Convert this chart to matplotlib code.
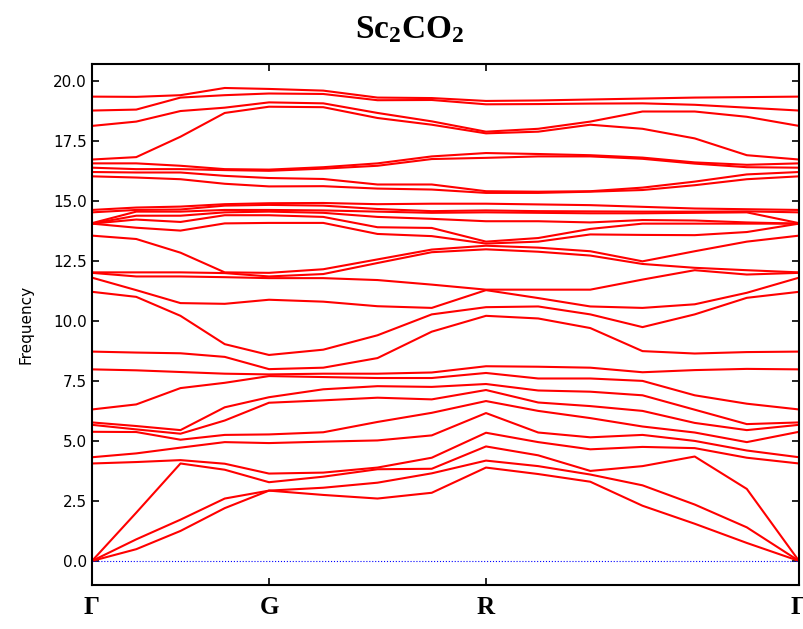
import numpy as np
import matplotlib.pyplot as plt

plt.rcParams['mathtext.default'] = 'regular'

# distance along the path Γ-G-R-Γ
kdist = [0, 44.25, 88.5, 132.75, 177, 231.25, 285.5, 339.75, 394,
         446.2, 498.3, 550.5, 602.7, 654.8, 707]
klabels = ['Γ', 'G', 'R', 'Γ']
kticks = [0, 177, 394, 707]

# phonon frequencies at each path point (30 branches, sorted)
f_gamma = [0, 0, 0, 4.06, 4.32, 5.38, 5.67, 5.77, 6.31, 7.98, 8.72, 11.21, 11.8, 12.0, 12.02,
           13.55, 14.05, 14.05, 14.05, 14.07, 14.52, 14.62, 16.02, 16.2, 16.38, 16.56, 16.72,
           18.12, 18.76, 19.34]
f_b = [0.49, 0.9, 2.01, 4.12, 4.48, 5.37, 5.48, 5.62, 6.52, 7.94, 8.68, 11.0, 11.28, 11.85, 12.02,
       13.41, 13.88, 14.22, 14.38, 14.55, 14.62, 14.72, 15.97, 16.18, 16.32, 16.56, 16.82,
       18.3, 18.8, 19.33]
f_c = [1.25, 1.72, 4.06, 4.2, 4.72, 5.05, 5.3, 5.45, 7.2, 7.87, 8.65, 10.21, 10.74, 11.85, 12.02,
       12.84, 13.76, 14.12, 14.38, 14.55, 14.64, 14.76, 15.9, 16.18, 16.32, 16.46, 17.67,
       18.74, 19.3, 19.4]
f_d = [2.2, 2.6, 3.8, 4.05, 4.95, 5.25, 5.85, 6.4, 7.42, 7.8, 8.5, 9.03, 10.71, 11.82, 11.99,
       12.02, 14.06, 14.4, 14.52, 14.62, 14.8, 14.86, 15.71, 16.04, 16.28, 16.32, 18.66,
       18.88, 19.4, 19.7]
f_g = [2.93, 2.93, 3.28, 3.64, 4.91, 5.27, 6.59, 6.82, 7.7, 7.77, 7.99, 8.58, 10.88, 11.78, 11.85,
       12.0, 14.08, 14.4, 14.55, 14.62, 14.83, 14.9, 15.6, 15.95, 16.25, 16.3, 18.92,
       19.1, 19.47, 19.66]
f_f = [2.75, 3.05, 3.51, 3.68, 4.97, 5.36, 6.69, 7.15, 7.66, 7.8, 8.05, 8.8, 10.8, 11.78, 11.95,
       12.15, 14.08, 14.33, 14.5, 14.6, 14.8, 14.91, 15.61, 15.91, 16.34, 16.4, 18.9,
       19.06, 19.45, 19.59]
f_h = [2.6, 3.26, 3.82, 3.89, 5.02, 5.79, 6.8, 7.28, 7.62, 7.8, 8.45, 9.4, 10.61, 11.7, 12.41,
       12.56, 13.62, 13.9, 14.33, 14.55, 14.66, 14.86, 15.51, 15.68, 16.46, 16.56, 18.45,
       18.66, 19.19, 19.3]
f_i = [2.84, 3.65, 3.84, 4.3, 5.23, 6.17, 6.73, 7.25, 7.62, 7.85, 9.55, 10.27, 10.54, 11.51, 12.86,
       12.97, 13.53, 13.87, 14.25, 14.5, 14.57, 14.88, 15.47, 15.68, 16.74, 16.85, 18.17,
       18.31, 19.2, 19.28]
f_r = [3.89, 4.18, 4.77, 5.34, 6.16, 6.66, 7.12, 7.37, 7.83, 8.11, 10.21, 10.57, 11.28, 11.3, 12.98,
       13.13, 13.22, 13.3, 14.15, 14.52, 14.6, 14.88, 15.33, 15.4, 16.79, 16.99, 17.81,
       17.88, 19.02, 19.16]
f_j = [3.62, 3.95, 4.4, 4.95, 5.35, 6.25, 6.6, 7.1, 7.6, 8.09, 10.1, 10.6, 10.95, 11.3, 12.88,
       13.05, 13.3, 13.45, 14.15, 14.5, 14.57, 14.85, 15.33, 15.38, 16.85, 16.95, 17.88,
       18.0, 19.03, 19.18]
f_k = [3.3, 3.6, 3.75, 4.65, 5.15, 5.95, 6.45, 7.05, 7.6, 8.05, 9.7, 10.27, 10.6, 11.3, 12.72,
       12.9, 13.6, 13.83, 14.1, 14.48, 14.56, 14.82, 15.38, 15.4, 16.85, 16.9, 18.17,
       18.3, 19.05, 19.22]
f_l = [2.3, 3.15, 3.95, 4.75, 5.25, 5.6, 6.25, 6.9, 7.5, 7.86, 8.74, 9.74, 10.54, 11.72, 12.37,
       12.48, 13.58, 14.05, 14.2, 14.48, 14.55, 14.75, 15.45, 15.55, 16.75, 16.8, 18.0,
       18.72, 19.06, 19.26]
f_m = [1.55, 2.35, 4.35, 4.7, 5.0, 5.35, 5.75, 6.3, 6.9, 7.95, 8.64, 10.27, 10.69, 12.11, 12.21,
       12.9, 13.57, 14.05, 14.18, 14.5, 14.55, 14.68, 15.65, 15.8, 16.55, 16.6, 17.6,
       18.72, 19.0, 19.3]
f_n = [0.75, 1.4, 3.0, 4.3, 4.6, 4.95, 5.45, 5.7, 6.55, 8.0, 8.7, 10.96, 11.17, 11.93, 12.11,
       13.3, 13.7, 14.05, 14.1, 14.52, 14.56, 14.65, 15.9, 16.1, 16.4, 16.5, 16.9,
       18.5, 18.88, 19.32]

freqs = np.array([f_gamma, f_b, f_c, f_d, f_g, f_f, f_h, f_i, f_r,
                  f_j, f_k, f_l, f_m, f_n, f_gamma])

fig = plt.figure(figsize=(8.04, 6.29), dpi=100)
ax = fig.add_axes([0.1144, 0.070, 0.8794, 0.8283])

for band in range(freqs.shape[1]):
    ax.plot(kdist, freqs[:, band], color='red', lw=1.5)

ax.axhline(0, color='blue', lw=0.8, ls=':')

ax.set_xlim(kdist[0], kdist[-1])
ax.set_ylim(-1.0, 20.7)
ax.set_xticks(kticks)
ax.set_xticklabels(klabels, fontfamily='Liberation Serif', fontweight='bold', fontsize=18)
ax.set_yticks(np.arange(0, 20.1, 2.5))
ax.tick_params(axis='both', direction='in', top=True, right=True, length=5, width=1.2)
ax.tick_params(axis='y', labelsize=11)
ax.tick_params(axis='x', pad=8)
for s in ax.spines.values():
    s.set_linewidth(1.5)
ax.set_ylabel('Frequency', fontsize=11, labelpad=14)

fig.text(0.51, 0.952, 'Sc$_2$CO$_2$', ha='center', va='center',
         fontfamily='Liberation Serif', fontweight='bold', fontsize=24)

fig.savefig('out.png')
